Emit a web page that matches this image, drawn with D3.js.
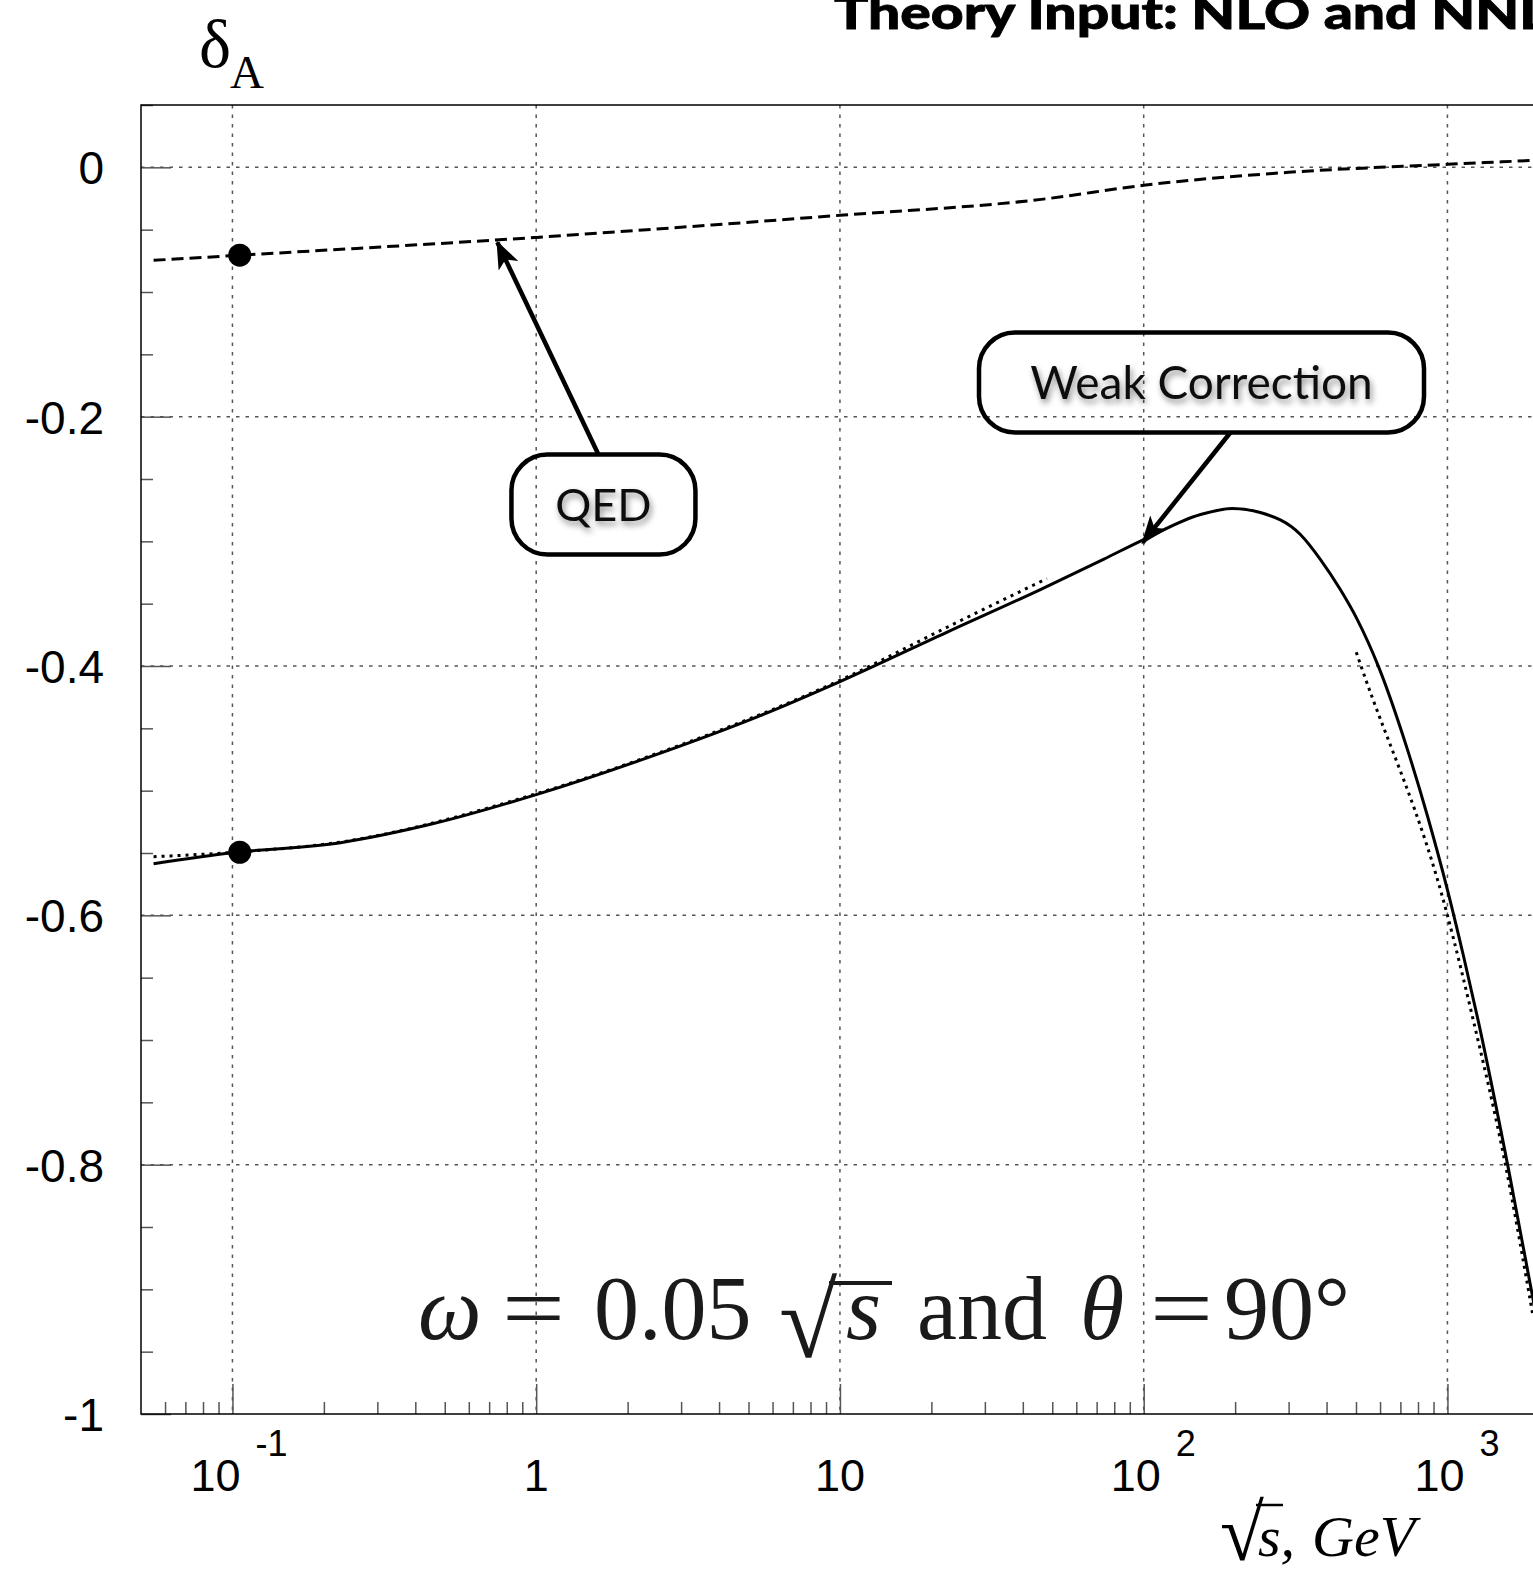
<!DOCTYPE html>
<html>
<head>
<meta charset="utf-8">
<script src="https://cdn.jsdelivr.net/npm/d3@7"></script>
<style>
  html, body { margin: 0; padding: 0; overflow: hidden; background: #fff; }
  svg { display: block; }
</style>
</head>
<body>
<svg id="chart" width="1533" height="1569"></svg>
<script>
// Full one-loop weak correction delta_A versus sqrt(s) in GeV
const weakEnergy = [0.055, 0.1, 0.227, 0.449, 1, 2.38, 5.47, 10, 23.1, 45.7, 73.7, 100, 154, 196, 242, 328, 382, 444, 505, 593, 744, 859, 1000, 1129, 1265, 1588, 1905, 2100];
const weakDelta  = [-0.5586, -0.5498, -0.5417, -0.527, -0.5032, -0.4727, -0.4398, -0.4125, -0.3716, -0.3387, -0.3144, -0.2986, -0.2785, -0.2737, -0.2769, -0.2945, -0.3146, -0.3387, -0.3628, -0.4005, -0.4695, -0.5201, -0.5795, -0.6324, -0.6854, -0.8034, -0.9053, -0.962];

// QED part of the correction
const qedEnergy = [0.055, 0.1057, 1, 10, 46, 100, 300, 1000, 2100];
const qedDelta  = [-0.0746, -0.0705, -0.0562, -0.0385, -0.0257, -0.0144, -0.0040, 0.0024, 0.0060];

// Low-energy approximation (dotted)
const lowApproxEnergy = [0.055, 0.1, 0.227, 1, 2.38, 10, 23.1, 48];
const lowApproxDelta  = [-0.553, -0.5495, -0.5412, -0.5025, -0.472, -0.4115, -0.3676, -0.3299];

// High-energy (Sudakov) approximation (dotted)
const highApproxEnergy = [501, 521, 1000, 1208, 1552, 1905];
const highApproxDelta  = [-0.389, -0.401, -0.600, -0.681, -0.800, -0.919];

// Marked points at the muon mass
const markEnergy = [0.1057, 0.1057];
const markDelta  = [-0.0705, -0.5494];

// Axis ticks
const xMajorTicks = [0.1, 1, 10, 100, 1000];
const xTickBase   = ["10", "1", "10", "10", "10"];
const xTickExp    = ["-1", "", "", "2", "3"];
const yMajorTicks = [0, -0.2, -0.4, -0.6, -0.8, -1];
const yTickLabels = ["0", "-0.2", "-0.4", "-0.6", "-0.8", "-1"];

const svg = d3.select("#chart");

const plotLeft = 141, plotTop = 105, plotBottom = 1414;
const decade = 303.75;
const xMin = 0.05, xMax = 5000;
const x = d3.scaleLog().domain([xMin, xMax])
  .range([plotLeft, plotLeft + decade * Math.log10(xMax / xMin)]);
const y = d3.scaleLinear().domain([-1, 0.05]).range([plotBottom, plotTop]);
const plotRight = x(xMax);

const defs = svg.append("defs");
defs.append("clipPath").attr("id", "plotClip")
  .append("rect").attr("x", plotLeft).attr("y", plotTop)
  .attr("width", plotRight - plotLeft).attr("height", plotBottom - plotTop);

const shadow = defs.append("filter").attr("id", "txtShadow")
  .attr("x", "-20%").attr("y", "-40%").attr("width", "140%").attr("height", "180%");
shadow.append("feDropShadow").attr("dx", 2).attr("dy", 4)
  .attr("stdDeviation", 3).attr("flood-color", "#000").attr("flood-opacity", 0.45);

defs.append("marker").attr("id", "arrowHead")
  .attr("viewBox", "0 0 28 22").attr("refX", 26).attr("refY", 11)
  .attr("markerWidth", 28).attr("markerHeight", 22)
  .attr("markerUnits", "userSpaceOnUse").attr("orient", "auto")
  .append("path").attr("d", "M0,0 L28,11 L0,22 L7,11 Z").attr("fill", "#000");

// Grid
const grid = svg.append("g");
grid.selectAll("line.gx").data(xMajorTicks).join("line")
  .attr("x1", d => x(d)).attr("x2", d => x(d))
  .attr("y1", plotTop).attr("y2", plotBottom)
  .attr("stroke", "#555").attr("stroke-width", 1.5).attr("stroke-dasharray", "3.5,6");
grid.selectAll("line.gy").data(yMajorTicks.filter(d => d > -1)).join("line")
  .attr("x1", plotLeft).attr("x2", plotRight)
  .attr("y1", d => y(d)).attr("y2", d => y(d))
  .attr("stroke", "#555").attr("stroke-width", 1.5).attr("stroke-dasharray", "3.5,6");

// Axes ticks (drawn inward)
const xMinor = [];
for (let e = -2; e <= 3; e++) for (let m = 2; m <= 9; m++) {
  const v = m * Math.pow(10, e);
  if (v > xMin && v < xMax) xMinor.push(v);
}
const yMinor = d3.range(-1, 0.0501, 0.05).filter(v => !yMajorTicks.some(t => Math.abs(t - v) < 1e-6));

function styleAxis(g) {
  g.select(".domain").remove();
  g.selectAll(".tick line").attr("stroke", "#555").attr("stroke-width", 1.5);
}
svg.append("g").attr("transform", `translate(0,${plotBottom})`)
  .call(d3.axisBottom(x).tickValues(xMinor).tickSize(-12).tickFormat("")).call(styleAxis);
svg.append("g").attr("transform", `translate(0,${plotBottom})`)
  .call(d3.axisBottom(x).tickValues(xMajorTicks).tickSize(-30).tickFormat("")).call(styleAxis);
svg.append("g").attr("transform", `translate(${plotLeft},0)`)
  .call(d3.axisLeft(y).tickValues(yMinor).tickSize(-12).tickFormat("")).call(styleAxis);
svg.append("g").attr("transform", `translate(${plotLeft},0)`)
  .call(d3.axisLeft(y).tickValues(yMajorTicks).tickSize(-30).tickFormat("")).call(styleAxis);

// Frame
svg.append("rect").attr("x", plotLeft).attr("y", plotTop)
  .attr("width", plotRight - plotLeft).attr("height", plotBottom - plotTop)
  .attr("fill", "none").attr("stroke", "#000").attr("stroke-width", 1.5);

// Tick labels
const tickFont = "'Liberation Sans', Arial, Helvetica, sans-serif";
svg.append("g").selectAll("text").data(yMajorTicks).join("text")
  .attr("x", 104).attr("y", d => y(d) + 17)
  .attr("text-anchor", "end").attr("font-family", tickFont).attr("font-size", 46)
  .text((d, i) => yTickLabels[i]);

const xl = svg.append("g").attr("font-family", tickFont);
xMajorTicks.forEach((v, i) => {
  const cx = x(v);
  if (xTickExp[i]) {
    const endX = cx + (xTickExp[i].startsWith("-") ? 8 : 17);
    xl.append("text").attr("x", endX).attr("y", 1491).attr("text-anchor", "end")
      .attr("font-size", 45).text(xTickBase[i]);
    xl.append("text").attr("x", endX + 15).attr("y", 1456).attr("text-anchor", "start")
      .attr("font-size", 36).text(xTickExp[i]);
  } else {
    xl.append("text").attr("x", cx).attr("y", 1491).attr("text-anchor", "middle")
      .attr("font-size", 45).text(xTickBase[i]);
  }
});

// Curves
const plot = svg.append("g").attr("clip-path", "url(#plotClip)");
const line = d3.line().x(d => x(d[0])).y(d => y(d[1])).curve(d3.curveMonotoneX);
const zip = (a, b) => a.map((v, i) => [v, b[i]]);

plot.append("path").datum(zip(lowApproxEnergy, lowApproxDelta)).attr("d", line)
  .attr("fill", "none").attr("stroke", "#000").attr("stroke-width", 3).attr("stroke-dasharray", "3,5");
plot.append("path").datum(zip(highApproxEnergy, highApproxDelta)).attr("d", line)
  .attr("fill", "none").attr("stroke", "#000").attr("stroke-width", 3).attr("stroke-dasharray", "3,4.5");
plot.append("path").datum(zip(weakEnergy, weakDelta)).attr("d", line)
  .attr("fill", "none").attr("stroke", "#000").attr("stroke-width", 3);
plot.append("path").datum(zip(qedEnergy, qedDelta)).attr("d", line)
  .attr("fill", "none").attr("stroke", "#000").attr("stroke-width", 3).attr("stroke-dasharray", "12,6");

plot.selectAll("circle").data(zip(markEnergy, markDelta)).join("circle")
  .attr("cx", d => x(d[0])).attr("cy", d => y(d[1])).attr("r", 11.5).attr("fill", "#000");

// Callouts
const calloutFont = "Lato, 'Open Sans', sans-serif";
const callouts = [
  { text: "QED", cx: 1.665, cy: -0.2705, w: 184, h: 100, fs: 45,
    from: [1.603, -0.2303], to: [0.745, -0.0602] },
  { text: "Weak Correction", cx: 155, cy: -0.1726, w: 445, h: 100, fs: 46,
    from: [193, -0.2127], to: [99.2, -0.301] }
];
const cg = svg.append("g");
callouts.forEach(c => {
  cg.append("line")
    .attr("x1", x(c.from[0])).attr("y1", y(c.from[1]))
    .attr("x2", x(c.to[0])).attr("y2", y(c.to[1]))
    .attr("stroke", "#000").attr("stroke-width", 4.5).attr("marker-end", "url(#arrowHead)");
  cg.append("rect")
    .attr("x", x(c.cx) - c.w / 2).attr("y", y(c.cy) - c.h / 2)
    .attr("width", c.w).attr("height", c.h).attr("rx", 36).attr("ry", 36)
    .attr("fill", "none").attr("stroke", "#000").attr("stroke-width", 4.5);
  cg.append("text")
    .attr("x", x(c.cx)).attr("y", y(c.cy) + c.fs * 0.36)
    .attr("text-anchor", "middle").attr("font-family", calloutFont)
    .attr("font-size", c.fs).attr("fill", "#111").attr("filter", "url(#txtShadow)")
    .text(c.text);
});

// Condition formula
const serif = "'Liberation Serif', 'Times New Roman', serif";
const fy = 1339;
const fg = svg.append("g").attr("font-family", serif).attr("font-size", 90).attr("fill", "#1a1a1a");
const formulaParts = [
  { t: "ω", x: 418, it: true },
  { t: "=", x: 502, w: 63 },
  { t: "0.05", x: 594 },
  { t: "s", x: 846, it: true },
  { t: "and", x: 917 },
  { t: "θ", x: 1080, it: true },
  { t: "=", x: 1150, w: 63 },
  { t: "90°", x: 1224 }
];
formulaParts.forEach(p => {
  const t = fg.append("text").attr("x", p.x).attr("y", fy)
    .attr("font-style", p.it ? "italic" : "normal").text(p.t);
  if (p.w) t.attr("textLength", p.w).attr("lengthAdjust", "spacingAndGlyphs");
});
fg.append("text").attr("x", 779).attr("y", 1357).attr("font-size", 106).text("√");
fg.append("line").attr("x1", 829).attr("x2", 892).attr("y1", 1283).attr("y2", 1283)
  .attr("stroke", "#1a1a1a").attr("stroke-width", 4);

// Axis titles
const yt = svg.append("text").attr("font-family", serif);
yt.append("tspan").attr("x", 199).attr("y", 67).attr("font-size", 68).text("δ");
yt.append("tspan").attr("x", 230).attr("y", 88).attr("font-size", 47).text("A");

const xt = svg.append("g").attr("font-family", serif).attr("font-size", 58);
xt.append("text").attr("x", 1220).attr("y", 1560).attr("font-size", 80).text("√");
xt.append("text").attr("x", 1258).attr("y", 1556).attr("font-style", "italic").text("s,");
xt.append("line").attr("x1", 1256).attr("x2", 1283).attr("y1", 1505).attr("y2", 1505)
  .attr("stroke", "#000").attr("stroke-width", 2.5);
xt.append("text").attr("x", 1312).attr("y", 1556).attr("font-style", "italic").text("GeV");

// Title (runs past the right edge)
svg.append("text").attr("x", 834).attr("y", 29)
  .attr("font-family", "Lato, 'Open Sans', sans-serif").attr("font-weight", 900)
  .attr("font-size", 46).attr("stroke", "#000").attr("stroke-width", 0.8)
  .attr("textLength", 760).attr("lengthAdjust", "spacingAndGlyphs")
  .text("Theory Input: NLO and NNLO");
</script>
</body>
</html>
